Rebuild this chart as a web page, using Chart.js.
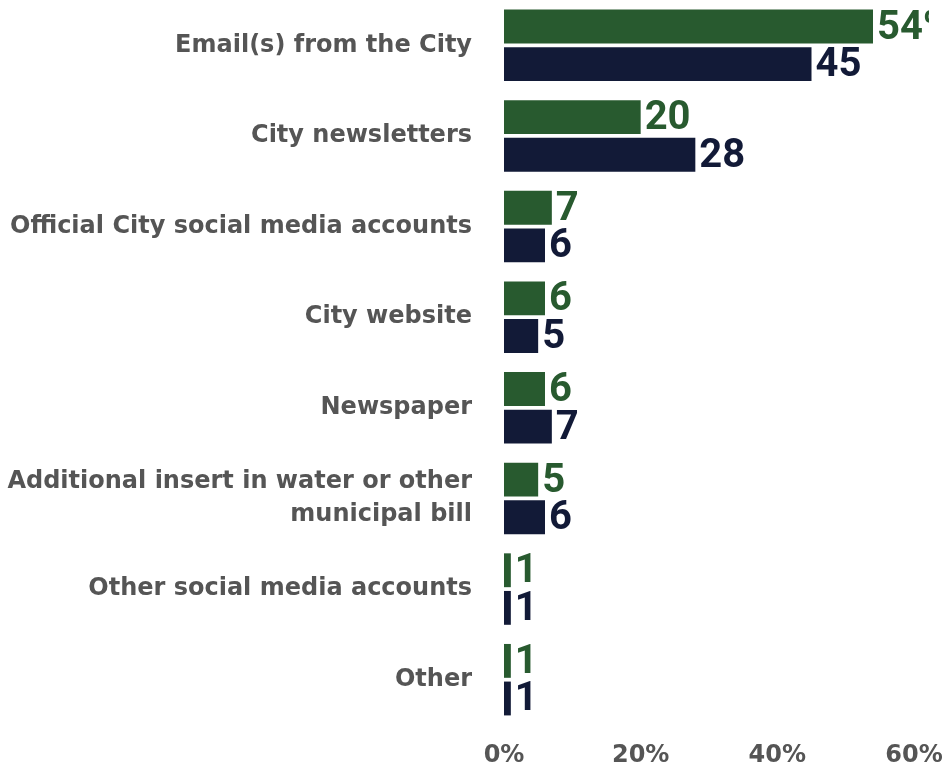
<!DOCTYPE html>
<html>
<head>
<meta charset="utf-8">
<script src="https://cdn.jsdelivr.net/npm/chart.js@4"></script>
<style>
  html, body { margin: 0; padding: 0; background: #fff; }
  #wrap { width: 944px; height: 770px; }
</style>
</head>
<body>
<div id="wrap"><canvas id="myChart" width="944" height="770"></canvas></div>
<script>
var categories = [
  "Email(s) from the City",
  "City newsletters",
  "Official City social media accounts",
  "City website",
  "Newspaper",
  ["Additional insert in water or other", "municipal bill"],
  "Other social media accounts",
  "Other",
];
var greenValues = [54, 20, 7, 6, 6, 5, 1, 1];
var navyValues = [45, 28, 6, 5, 7, 6, 1, 1];
var xTicks = [0, 20, 40, 60];

var GREEN = "#285a2f";
var NAVY = "#121a37";
var GREY = "#555555";

// draws the value next to the end of each bar (first one carries the % sign,
// which gets cut off at the right like in the original)
var valueLabels = {
  id: "valueLabels",
  afterDatasetsDraw: function (chart) {
    var c = chart.ctx;
    c.save();
    c.beginPath();
    c.rect(0, 0, chart.chartArea.right + 15, chart.height);
    c.clip();
    c.font = "bold 40px Roboto";
    c.textAlign = "left";
    c.textBaseline = "middle";
    chart.data.datasets.forEach(function (ds, i) {
      var meta = chart.getDatasetMeta(i);
      c.fillStyle = ds.backgroundColor;
      meta.data.forEach(function (bar, j) {
        var txt = String(ds.data[j]) + (i === 0 && j === 0 ? "%" : "");
        c.fillText(txt, bar.x + 4, bar.y + 2);
      });
    });
    c.restore();
  },
};

var ctx = document.getElementById("myChart");
var myChart = new Chart(ctx, {
  type: "bar",
  data: {
    labels: categories,
    datasets: [
      {
        label: "A",
        data: greenValues,
        backgroundColor: GREEN,
        categoryPercentage: 0.83,
        barPercentage: 0.9,
      },
      {
        label: "B",
        data: navyValues,
        backgroundColor: NAVY,
        categoryPercentage: 0.83,
        barPercentage: 0.9,
      },
    ],
  },
  options: {
    indexAxis: "y",
    responsive: false,
    animation: false,
    layout: {
      padding: { top: 0, right: 30, bottom: 0, left: 0 },
    },
    scales: {
      x: {
        min: 0,
        max: 60,
        afterBuildTicks: function (scale) {
          scale.ticks = xTicks.map(function (v) { return { value: v }; });
        },
        afterFit: function (scale) {
          scale.paddingLeft = 0;
          scale.paddingRight = 0;
          scale.height = 45;
        },
        grid: { display: false, drawTicks: false },
        border: { display: false },
        ticks: {
          color: GREY,
          font: { family: "DejaVu Sans", size: 24, weight: "bold" },
          padding: 16,
          maxRotation: 0,
          callback: function (v) { return v + "%"; },
        },
      },
      y: {
        grid: { display: false, drawTicks: false },
        border: { display: false },
        afterFit: function (scale) {
          scale.width = 504;
          scale.paddingTop = 0;
          scale.paddingBottom = 0;
        },
        ticks: {
          color: GREY,
          font: { family: "DejaVu Sans", size: 24, weight: "bold", lineHeight: 1.4 },
          padding: 32,
        },
      },
    },
    plugins: {
      legend: { display: false },
      tooltip: { enabled: false },
    },
  },
  plugins: [valueLabels],
});
</script>
</body>
</html>
